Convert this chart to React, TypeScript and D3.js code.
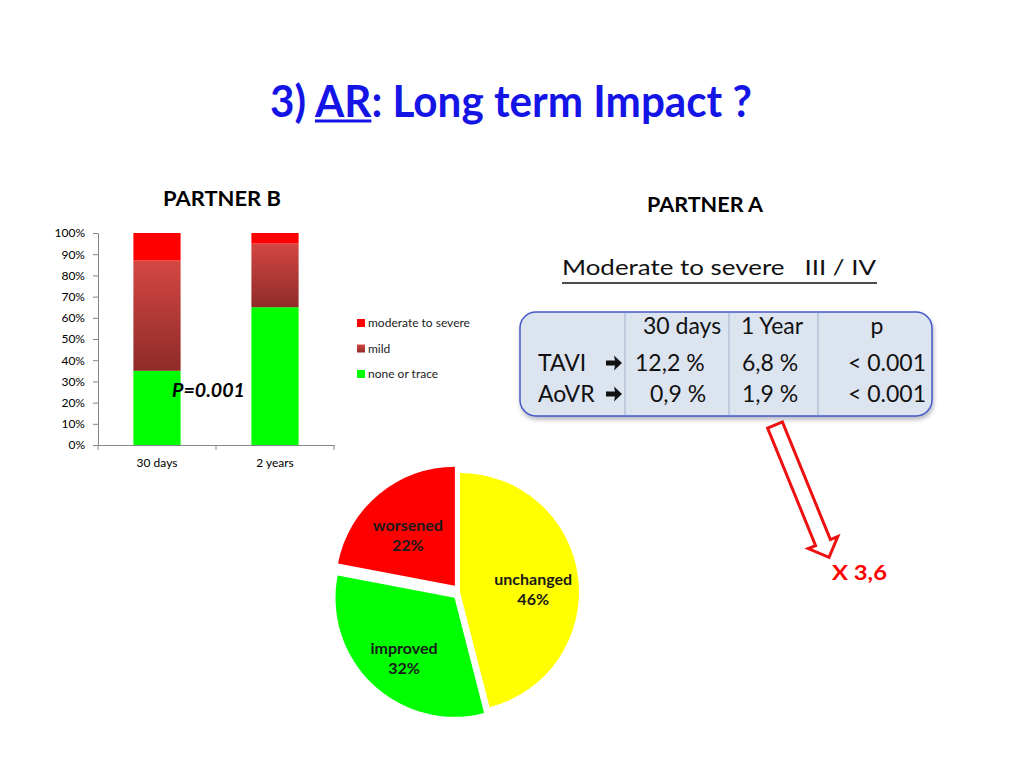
import { useEffect, useRef } from 'react';
import * as d3 from 'd3';

// PARTNER B stacked bars
const categories = ['30 days', '2 years'];
const noneOrTrace = [0.35, 0.65];
const mildAR = [0.52, 0.3];
const moderateToSevere = [0.13, 0.05];
const yTicks = [0, 0.1, 0.2, 0.3, 0.4, 0.5, 0.6, 0.7, 0.8, 0.9, 1];
const legendLabels = ['moderate to severe', 'mild', 'none or trace'];

// pie
const pieLabels = ['unchanged', 'improved', 'worsened'];
const pieValues = [46, 32, 22];

// PARTNER A table
const tableHeader = ['30 days', '1 Year', 'p'];
const rowLabels = ['TAVI', 'AoVR'];
const taviValues = ['12,2 %', '6,8 %', '< 0.001'];
const aovrValues = ['0,9 %', '1,9 %', '< 0.001'];

const FONT = 'Lato, "Open Sans", sans-serif';

const App = () => {
  const svgRef = useRef<SVGSVGElement>(null);

  useEffect(() => {
    if (!svgRef.current) return;
    const svg = d3.select(svgRef.current);
    svg.selectAll('*').remove();

    const defs = svg.append('defs');
    const grad = defs.append('linearGradient')
      .attr('id', 'mildGrad')
      .attr('x1', 0).attr('y1', 0).attr('x2', 0).attr('y2', 1);
    grad.append('stop').attr('offset', '0%').attr('stop-color', '#d44743');
    grad.append('stop').attr('offset', '100%').attr('stop-color', '#8e2b29');

    const shadow = defs.append('filter')
      .attr('id', 'boxShadow')
      .attr('x', '-10%').attr('y', '-10%')
      .attr('width', '120%').attr('height', '140%');
    shadow.append('feDropShadow')
      .attr('dx', 1).attr('dy', 3)
      .attr('stdDeviation', 2)
      .attr('flood-color', '#6a7080')
      .attr('flood-opacity', 0.5);

    // Title
    const title = svg.append('text')
      .attr('x', 270).attr('y', 117)
      .attr('font-family', FONT)
      .attr('font-weight', 700)
      .attr('font-size', 44)
      .attr('fill', '#1414e6')
      .attr('textLength', 482)
      .attr('lengthAdjust', 'spacingAndGlyphs');
    title.append('tspan').text('3) ');
    title.append('tspan').text('AR');
    title.append('tspan').text(': Long term Impact ?');
    const tNode = title.node() as SVGTextElement;
    const ux0 = tNode.getStartPositionOfChar(3).x;
    const ux1 = tNode.getEndPositionOfChar(4).x;
    svg.append('line')
      .attr('x1', ux0).attr('x2', ux1)
      .attr('y1', 121).attr('y2', 121)
      .attr('stroke', '#1414e6').attr('stroke-width', 3);

    // ---------- PARTNER B ----------
    svg.append('text')
      .attr('x', 222).attr('y', 206)
      .attr('text-anchor', 'middle')
      .attr('font-family', FONT).attr('font-weight', 700).attr('font-size', 21)
      .attr('textLength', 118).attr('lengthAdjust', 'spacingAndGlyphs')
      .text('PARTNER B');

    const x = d3.scaleBand().domain(categories).range([98, 334]);
    const y = d3.scaleLinear().domain([0, 1]).range([445, 233]);
    const barW = x.bandwidth() * 0.4;

    const rows = categories.map((c, i) => ({
      category: c,
      none: noneOrTrace[i],
      mild: mildAR[i],
      severe: moderateToSevere[i],
    }));
    const series = d3.stack<any>().keys(['none', 'mild', 'severe'])(rows);
    const fills: Record<string, string> = {
      none: '#00ff00',
      mild: 'url(#mildGrad)',
      severe: '#ff0000',
    };

    svg.append('g')
      .selectAll('g')
      .data(series)
      .join('g')
      .attr('fill', d => fills[d.key])
      .selectAll('rect')
      .data(d => d)
      .join('rect')
      .attr('x', d => (x(d.data.category) || 0) + (x.bandwidth() - barW) / 2)
      .attr('y', d => y(d[1]))
      .attr('width', barW)
      .attr('height', d => y(d[0]) - y(d[1]));

    const yAxis = svg.append('g')
      .attr('transform', 'translate(98,0)')
      .call(d3.axisLeft(y).tickValues(yTicks).tickFormat(d3.format('.0%')).tickSizeInner(5).tickSizeOuter(0).tickPadding(8));
    yAxis.select('.domain').attr('stroke', '#868686');
    yAxis.selectAll('.tick line').attr('stroke', '#868686');
    yAxis.selectAll('text').attr('font-family', FONT).attr('font-size', 12).attr('fill', '#000');

    const xAxis = svg.append('g')
      .attr('transform', 'translate(0,445)')
      .call(d3.axisBottom(x).tickSize(0).tickPadding(13));
    xAxis.select('.domain').attr('stroke', '#868686');
    xAxis.selectAll('text').attr('font-family', FONT).attr('font-size', 12).attr('fill', '#000');
    const bounds = [...categories.map(c => x(c) || 0), x.range()[1]];
    xAxis.selectAll('.bound')
      .data(bounds)
      .join('line')
      .attr('class', 'bound')
      .attr('x1', d => d).attr('x2', d => d)
      .attr('y1', 0).attr('y2', 5)
      .attr('stroke', '#868686');

    // legend
    const legendFills = [fills.severe, fills.mild, fills.none];
    const legend = svg.append('g')
      .selectAll('g')
      .data(legendLabels)
      .join('g')
      .attr('transform', (_, i) => `translate(357,${323 + i * 25.5})`);
    legend.append('rect')
      .attr('x', 0).attr('y', -4)
      .attr('width', 8).attr('height', 8)
      .attr('fill', (_, i) => legendFills[i]);
    legend.append('text')
      .attr('x', 11).attr('dy', '0.35em')
      .attr('font-family', FONT).attr('font-size', 12).attr('fill', '#222')
      .text(d => d);

    svg.append('text')
      .attr('x', 172).attr('y', 397)
      .attr('font-family', FONT).attr('font-weight', 700).attr('font-style', 'italic')
      .attr('font-size', 18)
      .attr('textLength', 73).attr('lengthAdjust', 'spacingAndGlyphs')
      .text('P=0.001');

    // ---------- PARTNER A ----------
    svg.append('text')
      .attr('x', 705).attr('y', 212)
      .attr('text-anchor', 'middle')
      .attr('font-family', FONT).attr('font-weight', 700).attr('font-size', 21)
      .attr('textLength', 116).attr('lengthAdjust', 'spacingAndGlyphs')
      .text('PARTNER A');

    svg.append('text')
      .attr('x', 562).attr('y', 275)
      .attr('font-family', FONT).attr('font-size', 22).attr('fill', '#111')
      .attr('textLength', 314).attr('lengthAdjust', 'spacingAndGlyphs')
      .text('Moderate to severe\u00a0\u00a0 III / IV');
    svg.append('line')
      .attr('x1', 562).attr('x2', 877)
      .attr('y1', 283).attr('y2', 283)
      .attr('stroke', '#111').attr('stroke-width', 1.5);

    const table = svg.append('g');
    table.append('rect')
      .attr('x', 520).attr('y', 312)
      .attr('width', 412).attr('height', 104)
      .attr('rx', 16)
      .attr('fill', '#dce4f0')
      .attr('stroke', '#4458c8').attr('stroke-width', 1.5)
      .attr('filter', 'url(#boxShadow)');
    table.selectAll('.sep')
      .data([625, 729, 818])
      .join('line')
      .attr('class', 'sep')
      .attr('x1', d => d).attr('x2', d => d)
      .attr('y1', 313).attr('y2', 415)
      .attr('stroke', '#a3b0c8').attr('stroke-width', 1);

    const cell = (tx: number, ty: number, s: string, anchor = 'start') =>
      table.append('text')
        .attr('x', tx).attr('y', ty)
        .attr('text-anchor', anchor)
        .attr('font-family', FONT).attr('font-size', 23).attr('fill', '#111')
        .text(s);

    // heavy black arrow used after row labels
    const bulletArrow: [number, number][] = [
      [0, -2.6], [9, -2.6], [8, -7.5], [16, 0], [8, 7.5], [9, 2.6], [0, 2.6],
    ];

    const rowY = [334, 371, 402];
    cell(643, rowY[0], tableHeader[0]);
    cell(741, rowY[0], tableHeader[1]);
    cell(877, rowY[0], tableHeader[2], 'middle');

    [taviValues, aovrValues].forEach((vals, r) => {
      const ty = rowY[r + 1];
      cell(538, ty, rowLabels[r]);
      table.append('path')
        .attr('d', d3.line()(bulletArrow) + 'Z')
        .attr('transform', `translate(606,${ty - 8})`)
        .attr('fill', '#111');
      cell(r === 0 ? 635 : 650, ty, vals[0]);
      cell(742, ty, vals[1]);
      cell(848, ty, vals[2]);
    });

    // hollow arrow
    const arrowPts: [number, number][] = [
      [-8, 0], [8, 0], [8, 127], [16, 127], [0, 143], [-16, 127], [-8, 127],
    ];
    svg.append('path')
      .attr('d', d3.line()(arrowPts) + 'Z')
      .attr('transform', 'translate(775,425) rotate(-22.2)')
      .attr('fill', '#fff')
      .attr('stroke', '#ee1111').attr('stroke-width', 3)
      .attr('stroke-linejoin', 'miter');

    svg.append('text')
      .attr('x', 832).attr('y', 580)
      .attr('font-family', FONT).attr('font-weight', 700).attr('font-size', 21)
      .attr('fill', '#ff0000')
      .attr('textLength', 55).attr('lengthAdjust', 'spacingAndGlyphs')
      .text('X 3,6');

    // ---------- pie ----------
    const R = 119;
    const pie = d3.pie<number>().sort(null).startAngle(0).endAngle(2 * Math.PI)(pieValues);
    const arc = d3.arc<d3.PieArcDatum<number>>().innerRadius(0).outerRadius(R);
    const labelArc = d3.arc<d3.PieArcDatum<number>>().innerRadius(R * 0.62).outerRadius(R * 0.62);
    const explode = [0, 8, 8];
    const pieColors = ['#ffff00', '#00ff00', '#ff0000'];

    const pg = svg.append('g').attr('transform', 'translate(460,592)');
    const slices = pg.selectAll('g')
      .data(pie)
      .join('g')
      .attr('transform', (d, i) => {
        const a = (d.startAngle + d.endAngle) / 2;
        return `translate(${Math.sin(a) * explode[i]},${-Math.cos(a) * explode[i]})`;
      });
    slices.append('path')
      .attr('d', arc)
      .attr('fill', (_, i) => pieColors[i]);
    const lbl = slices.append('text')
      .attr('transform', d => `translate(${labelArc.centroid(d)})`)
      .attr('text-anchor', 'middle')
      .attr('font-family', FONT).attr('font-weight', 700).attr('font-size', 16)
      .attr('fill', '#1a1a1a');
    lbl.append('tspan').attr('x', 0).attr('y', 2).text((_, i) => pieLabels[i]);
    lbl.append('tspan').attr('x', 0).attr('y', 22).text((_, i) => `${pieValues[i]}%`);
  }, []);

  return (
    <svg
      ref={svgRef}
      width={1024}
      height={768}
      style={{ position: 'absolute', left: 0, top: 0, background: '#fff' }}
    />
  );
};

export default App;
